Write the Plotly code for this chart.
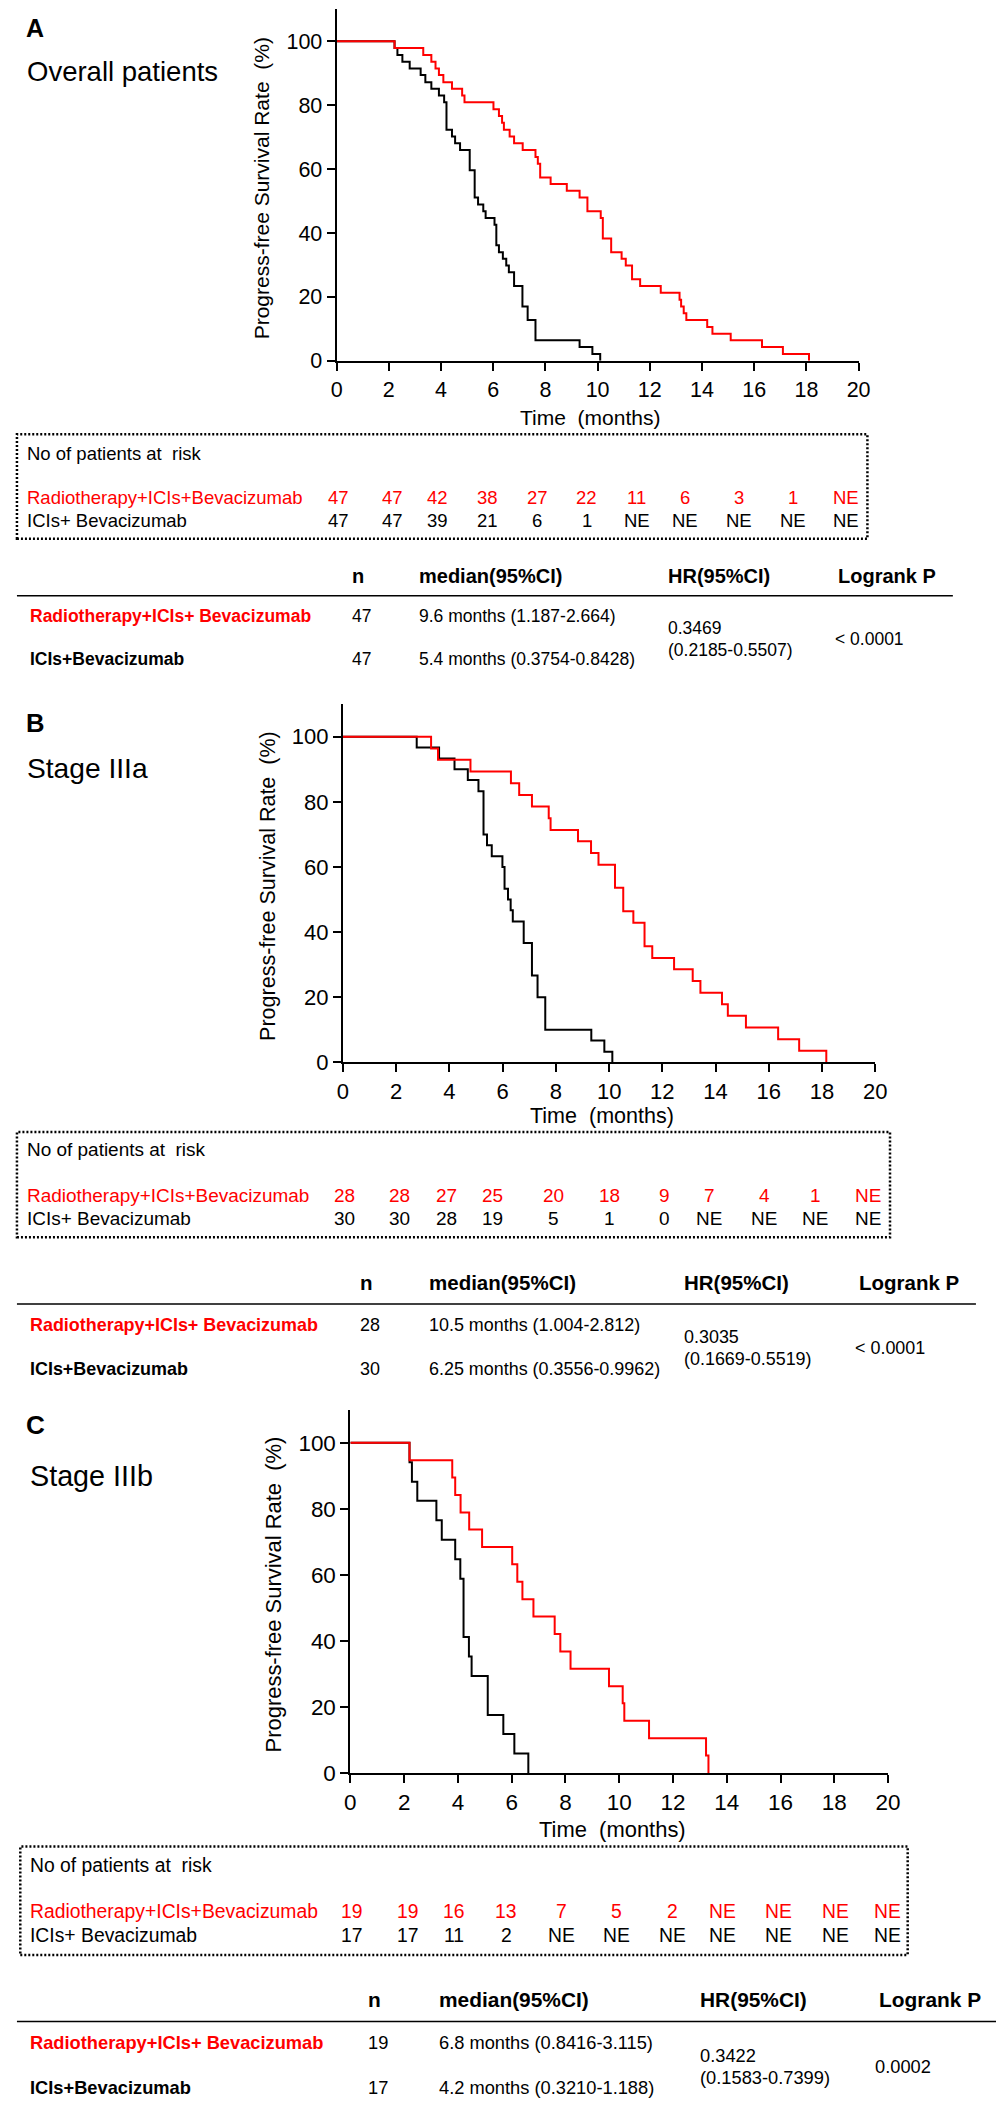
import plotly.graph_objects as go

W, H = 1004, 2105
FONT = "Liberation Sans, Arial, Helvetica, sans-serif"
RED = "#ff0000"

# ---- Kaplan-Meier curves (time in months, PFS in %) ----
# A: overall patients
a_rt_time = [0, 2.22, 3.32, 3.63, 3.79, 3.92, 4.09, 4.42, 4.81, 4.90, 6.01, 6.22, 6.34, 6.41,
             6.63, 6.80, 7.13, 7.62, 7.71, 7.80, 8.20, 8.82, 9.31, 9.61, 10.12, 10.20, 10.52,
             10.92, 11.08, 11.32, 11.63, 12.42, 13.14, 13.20, 13.30, 13.40, 14.20, 14.40,
             15.10, 16.30, 17.10, 18.10]
a_rt_surv = [100, 97.9, 95.7, 93.6, 91.5, 89.4, 87.2, 85.1, 83.0, 80.9, 78.7, 76.6, 74.5, 72.3,
             70.2, 68.1, 66.0, 63.8, 61.7, 57.4, 55.3, 53.2, 51.1, 46.8, 44.7, 38.3, 34.0,
             31.9, 29.8, 25.5, 23.4, 21.3, 19.1, 17.0, 14.9, 12.8, 10.6, 8.5,
             6.4, 4.3, 2.1, 0]
a_ici_time = [0, 2.22, 2.33, 2.52, 2.80, 3.22, 3.40, 3.63, 3.92, 4.12, 4.21, 4.42, 4.54, 4.73,
              5.10, 5.29, 5.42, 5.62, 5.71, 6.05, 6.12, 6.22, 6.37, 6.50, 6.60, 6.80, 7.12,
              7.32, 7.62, 9.31, 9.80, 10.10]
a_ici_surv = [100, 97.9, 95.7, 93.6, 91.5, 89.4, 87.2, 85.1, 83.0, 80.9, 72.3, 70.2, 68.1, 66.0,
              59.6, 51.1, 48.9, 46.8, 44.7, 42.6, 36.2, 34.0, 31.9, 29.8, 27.7, 23.4, 17.0,
              12.8, 6.4, 4.3, 2.1, 0]

# B: stage IIIa
b_rt_time = [0, 3.31, 3.57, 4.79, 6.31, 6.62, 7.10, 7.73, 7.80, 8.83, 9.32, 9.60, 10.22, 10.53,
             10.91, 11.33, 11.62, 12.44, 13.14, 13.43, 14.24, 14.46, 15.14, 16.35, 17.14, 18.16]
b_rt_surv = [100, 96.4, 92.9, 89.3, 85.7, 82.1, 78.6, 75.0, 71.4, 67.9, 64.3, 60.7, 53.6, 46.4,
             42.9, 35.7, 32.1, 28.6, 25.0, 21.4, 17.9, 14.3, 10.7, 7.1, 3.6, 0]
b_ici_time = [0, 2.77, 3.61, 4.19, 4.69, 5.09, 5.28, 5.41, 5.59, 5.99, 6.07, 6.20, 6.30, 6.38,
              6.79, 7.10, 7.31, 7.60, 9.33, 9.82, 10.12]
b_ici_surv = [100, 96.7, 93.3, 90.0, 86.7, 83.3, 70.0, 66.7, 63.3, 60.0, 53.3, 50.0, 46.7, 43.3,
              36.7, 26.7, 20.0, 10.0, 6.7, 3.3, 0]

# C: stage IIIb
c_rt_time = [0, 2.20, 3.79, 3.90, 4.10, 4.42, 4.90, 6.02, 6.21, 6.40, 6.81, 7.60, 7.81, 8.19,
             9.62, 10.13, 10.19, 11.11, 13.23, 13.32]
c_rt_surv = [100, 94.7, 89.5, 84.2, 78.9, 73.7, 68.4, 63.2, 57.9, 52.6, 47.4, 42.1, 36.8, 31.6,
             26.3, 21.1, 15.8, 10.5, 5.3, 0]
c_ici_time = [0, 2.20, 2.29, 2.49, 3.20, 3.40, 3.90, 4.09, 4.21, 4.41, 4.51, 5.11, 5.69, 6.10, 6.62]
c_ici_surv = [100, 94.1, 88.2, 82.4, 76.5, 70.6, 64.7, 58.8, 41.2, 35.3, 29.4, 17.6, 11.8, 5.9, 0]

# ---- numbers at risk (0, 2, ... 20 months) ----
a_risk_rt = ["47", "47", "42", "38", "27", "22", "11", "6", "3", "1", "NE"]
a_risk_ici = ["47", "47", "39", "21", "6", "1", "NE", "NE", "NE", "NE", "NE"]
b_risk_rt = ["28", "28", "27", "25", "20", "18", "9", "7", "4", "1", "NE"]
b_risk_ici = ["30", "30", "28", "19", "5", "1", "0", "NE", "NE", "NE", "NE"]
c_risk_rt = ["19", "19", "16", "13", "7", "5", "2", "NE", "NE", "NE", "NE"]
c_risk_ici = ["17", "17", "11", "2", "NE", "NE", "NE", "NE", "NE", "NE", "NE"]

# ---- summary tables ----
a_n = ["47", "47"]
a_median = ["9.6 months (1.187-2.664)", "5.4 months (0.3754-0.8428)"]
a_hr = ["0.3469", "(0.2185-0.5507)"]
a_p = "< 0.0001"
b_n = ["28", "30"]
b_median = ["10.5 months (1.004-2.812)", "6.25 months (0.3556-0.9962)"]
b_hr = ["0.3035", "(0.1669-0.5519)"]
b_p = "< 0.0001"
c_n = ["19", "17"]
c_median = ["6.8 months (0.8416-3.115)", "4.2 months (0.3210-1.188)"]
c_hr = ["0.3422", "(0.1583-0.7399)"]
c_p = "0.0002"

x_ticks = list(range(0, 21, 2))
y_ticks = list(range(0, 101, 20))

# ---- page layout (pixels) ----
layout_a = dict(x0=328.5, x1=860, ytop=1.3, y0=355, letter_y=20, sub=(11.5, 63.5),
                ytitle=(252, 181), xtitle=(587, 412), box=(3, 429, 869, 534),
                risk_y=(448, 493, 516), risk_x=11.5,
                cols=[330, 385, 431, 482, 533, 583, 634, 683, 738, 793, 847],
                head_y=572, line_y=591.5, line_x1=956, rows=(612, 655), hr_y=(624, 646),
                p_y=635, n_x=(350, 354), med_x=410, hr_x=664, lr_x=837, p_x=834, s=1.0)
layout_b = dict(x0=335, x1=877, ytop=700.5, y0=1061, letter_y=719.5, sub=(11.5, 765),
                ytitle=(258, 883), xtitle=(599, 1115), box=(3, 1131, 892, 1237),
                risk_y=(1149, 1194.7, 1218), risk_x=11.5,
                cols=[337, 393, 440, 487, 549, 606, 662, 708, 764, 816, 870],
                head_y=1282.7, line_y=1304, line_x1=979.5, rows=(1325, 1369.7),
                hr_y=(1337.6, 1359.5), p_y=1348, n_x=(358.5, 363), med_x=420.6, hr_x=680.5,
                lr_x=858, p_x=854.7, s=1.025)
layout_c = dict(x0=342.5, x1=890, ytop=1410.4, y0=1776, letter_y=1426, sub=(14, 1477),
                ytitle=(264, 1596), xtitle=(609, 1833), box=(6.4, 1850, 910, 1959),
                risk_y=(1869, 1915.4, 1939.4), risk_x=14,
                cols=[344, 401, 448, 501, 557, 614, 671, 721, 778.5, 836, 889],
                head_y=2004, line_y=2025.9, line_x1=1002, rows=(2047, 2092),
                hr_y=(2060.5, 2082.7), p_y=2071, n_x=(366.8, 371), med_x=431, hr_x=696.5,
                lr_x=878.4, p_x=874.5, s=1.045)

panels = [
    dict(letter="A", name="Overall patients", ici=(a_ici_time, a_ici_surv), rt=(a_rt_time, a_rt_surv),
         risk=(a_risk_rt, a_risk_ici), n=a_n, med=a_median, hr=a_hr, p=a_p, L=layout_a),
    dict(letter="B", name="Stage IIIa", ici=(b_ici_time, b_ici_surv), rt=(b_rt_time, b_rt_surv),
         risk=(b_risk_rt, b_risk_ici), n=b_n, med=b_median, hr=b_hr, p=b_p, L=layout_b),
    dict(letter="C", name="Stage IIIb", ici=(c_ici_time, c_ici_surv), rt=(c_rt_time, c_rt_surv),
         risk=(c_risk_rt, c_risk_ici), n=c_n, med=c_median, hr=c_hr, p=c_p, L=layout_c),
]

fig = go.Figure()
annotations = []
shapes = []


def px(x):
    return x / W


def py(y):
    return 1 - y / H


def txt(x, y, s, size, color="black", bold=False, anchor="left", angle=0):
    annotations.append(dict(
        x=px(x), y=py(y), xref="paper", yref="paper",
        text=f"<b>{s}</b>" if bold else s, showarrow=False,
        xanchor=anchor, yanchor="middle", textangle=angle,
        font=dict(family=FONT, size=size, color=color)))


for i, p in enumerate(panels, start=1):
    L = p["L"]
    s = L["s"]
    xa = "x" if i == 1 else f"x{i}"
    ya = "y" if i == 1 else f"y{i}"

    # curves: black first so red sits on top where they overlap
    fig.add_trace(go.Scatter(x=p["ici"][0], y=p["ici"][1], mode="lines", line_shape="hv",
                             line=dict(color="black", width=2), xaxis=xa, yaxis=ya,
                             showlegend=False, hoverinfo="skip"))
    fig.add_trace(go.Scatter(x=p["rt"][0], y=p["rt"][1], mode="lines", line_shape="hv",
                             line=dict(color=RED, width=2), xaxis=xa, yaxis=ya,
                             showlegend=False, hoverinfo="skip"))

    axis_common = dict(showline=True, linewidth=2, linecolor="black", ticks="outside",
                       ticklen=8, tickwidth=2, tickcolor="black", showgrid=False,
                       zeroline=False, tickfont=dict(family=FONT, size=21.5 * s, color="black"))
    fig.update_layout(**{
        ("xaxis" if i == 1 else f"xaxis{i}"): dict(
            domain=[px(L["x0"]), px(L["x1"])], range=[0, 20], tickvals=x_ticks,
            anchor=ya, **axis_common),
        ("yaxis" if i == 1 else f"yaxis{i}"): dict(
            domain=[py(L["y0"]), py(L["ytop"])], range=[0, 110], tickvals=y_ticks,
            anchor=xa, **axis_common),
    })

    # titles and labels
    txt(10, L["letter_y"], p["letter"], 25 * s, bold=True)
    txt(L["sub"][0], L["sub"][1], p["name"], 27.5 * s)
    txt(L["ytitle"][0], L["ytitle"][1], "Progress-free Survival Rate\u00a0\u00a0(%)", 21 * s,
        anchor="center", angle=-90)
    txt(L["xtitle"][0], L["xtitle"][1], "Time\u00a0\u00a0(months)", 21 * s, anchor="center")

    # number at risk box
    bx0, by0, bx1, by1 = L["box"]
    shapes.append(dict(type="rect", xref="paper", yref="paper",
                       x0=px(bx0), x1=px(bx1), y0=py(by1), y1=py(by0),
                       line=dict(color="black", width=2.5, dash="2px,2px")))
    hy, ry, ky = L["risk_y"]
    txt(L["risk_x"], hy, "No of patients at\u00a0\u00a0risk", 18.5 * s)
    txt(L["risk_x"], ry, "Radiotherapy+ICIs+Bevacizumab", 18.5 * s, color=RED)
    txt(L["risk_x"], ky, "ICIs+ Bevacizumab", 18.5 * s)
    for cx, v_rt, v_ici in zip(L["cols"], p["risk"][0], p["risk"][1]):
        txt(cx, ry, v_rt, 18.5 * s, color=RED, anchor="center")
        txt(cx, ky, v_ici, 18.5 * s, anchor="center")

    # summary table
    hs = 20 * s
    txt(L["n_x"][0], L["head_y"], "n", hs, bold=True, anchor="center")
    txt(L["med_x"], L["head_y"], "median(95%CI)", hs, bold=True)
    txt(L["hr_x"], L["head_y"], "HR(95%CI)", hs, bold=True)
    txt(L["lr_x"], L["head_y"], "Logrank P", hs, bold=True)
    shapes.append(dict(type="line", xref="paper", yref="paper",
                       x0=px(3), x1=px(L["line_x1"]), y0=py(L["line_y"]), y1=py(L["line_y"]),
                       line=dict(color="black", width=1.5)))
    rs = 17.5 * s
    txt(14, L["rows"][0], "Radiotherapy+ICIs+ Bevacizumab", rs, color=RED, bold=True)
    txt(14, L["rows"][1], "ICIs+Bevacizumab", rs, bold=True)
    for ry_, n_, m_ in zip(L["rows"], p["n"], p["med"]):
        txt(L["n_x"][1], ry_, n_, rs, anchor="center")
        txt(L["med_x"], ry_, m_, rs)
    txt(L["hr_x"], L["hr_y"][0], p["hr"][0], rs)
    txt(L["hr_x"], L["hr_y"][1], p["hr"][1], rs)
    txt(L["p_x"], L["p_y"], p["p"], rs)

fig.update_layout(width=W, height=H, margin=dict(l=0, r=0, t=0, b=0),
                  paper_bgcolor="white", plot_bgcolor="white", showlegend=False,
                  annotations=annotations, shapes=shapes,
                  font=dict(family=FONT, color="black"))

fig.write_html("out.html")
